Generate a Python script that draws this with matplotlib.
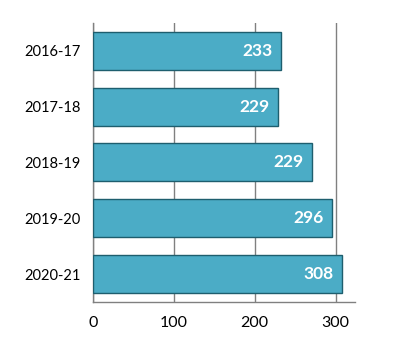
import matplotlib
matplotlib.use("Agg")
import matplotlib.pyplot as plt

years = ["2016-17", "2017-18", "2018-19", "2019-20", "2020-21"]
values = [233, 229, 271, 296, 308]
labels = ["233", "229", "229", "296", "308"]
xticks = [0, 100, 200, 300]

plt.rcParams['font.family'] = ['Lato', 'DejaVu Sans']

fig = plt.figure(figsize=(3.97, 3.53), dpi=100)
ax = fig.add_axes([0.234, 0.1445, 0.66, 0.791])

ypos = range(len(years))
ax.barh(ypos, values, height=0.68, color="#4BACC6", edgecolor="#1E5E6E",
        linewidth=1.0, zorder=3)
for y, v, t in zip(ypos, values, labels):
    ax.text(v - 11, y, t, ha="right", va="center", color="white",
            fontsize=12.5, fontweight="bold", zorder=4)

ax.set_yticks(list(ypos))
ax.set_yticklabels(years, fontsize=10.5)
ax.set_xticks(xticks)
ax.set_xticklabels([str(x) for x in xticks], fontsize=11.5)
ax.set_xlim(0, 324)
ax.set_ylim(4.5, -0.5)
ax.tick_params(length=0)
ax.tick_params(axis="y", pad=9)
ax.tick_params(axis="x", pad=10)
ax.grid(axis="x", color="#808080", linewidth=1.0, zorder=0)
for s in ["top", "right"]:
    ax.spines[s].set_visible(False)
for s in ["left", "bottom"]:
    ax.spines[s].set_color("#808080")
    ax.spines[s].set_linewidth(1.0)

fig.savefig("out.png", dpi=100)
